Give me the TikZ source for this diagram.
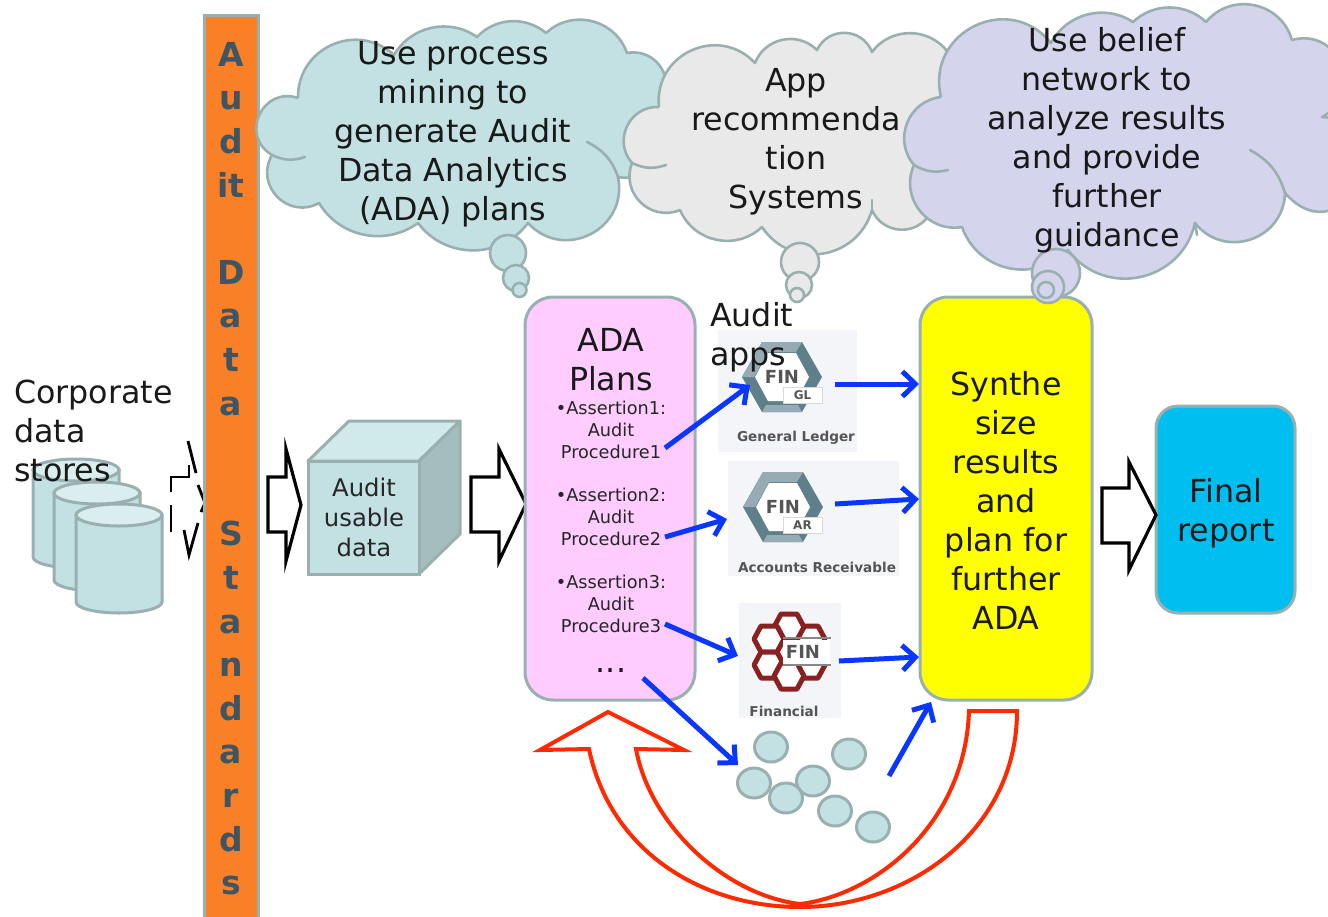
\documentclass[tikz,border=0pt]{standalone}
\usepackage{fontspec}
\setmainfont{DejaVu Sans}
\usetikzlibrary{arrows.meta,calc,shapes.geometric}
\definecolor{edge}{HTML}{9AB0B0}
\definecolor{tealfill}{HTML}{C3E0E3}
\definecolor{tealtop}{HTML}{DAEEF0}
\definecolor{tealtop2}{HTML}{D0E9EA}
\definecolor{tealside}{HTML}{A5BDBD}
\definecolor{greycloud}{HTML}{E9E9E9}
\definecolor{lilac}{HTML}{D4D4EC}
\definecolor{barorange}{HTML}{F98027}
\definecolor{barink}{HTML}{3F5564}
\definecolor{pinkbox}{HTML}{FFCCFF}
\definecolor{yellowbox}{HTML}{FFFF00}
\definecolor{bluebox}{HTML}{00BFF0}
\definecolor{arrowblue}{HTML}{0A37FF}
\definecolor{arrowred}{HTML}{FF2A00}
\definecolor{iconbg}{HTML}{F4F5F8}
\definecolor{hexdark}{HTML}{5F7F8A}
\definecolor{hexlight}{HTML}{96ABB3}
\definecolor{hexred}{HTML}{8B2020}
\definecolor{iconink}{HTML}{555555}
\tikzset{
  x=1pt,y=-1pt,
  b/.code={\pgfmathsetmacro\bendang{2*atan(2*#1)}\pgfmathsetmacro\bendloose{(2/3)*tan(\bendang/2)/sin(\bendang)/0.3915}\tikzset{bend left=\bendang,looseness=\bendloose}},
  cloudline/.style={draw=edge,line width=2.6pt,line join=round},
  crease/.style={draw=edge,line width=2.6pt,line cap=round},
  big/.style={inner sep=0pt,align=center,font=\fontsize{31.7}{39}\selectfont,text=black!90},
  mid/.style={inner sep=0pt,align=center,font=\fontsize{24.3}{30}\selectfont,text=black!85},
  small/.style={inner sep=0pt,align=center,font=\fontsize{17.7}{22}\selectfont,text=black!85},
  applabel/.style={inner sep=0pt,font=\fontsize{13.6}{15}\bfseries\selectfont,text=iconink},
  finlabel/.style={inner sep=0pt,font=\fontsize{18}{20}\bfseries\selectfont,text=iconink},
  tablabel/.style={inner sep=0pt,font=\fontsize{12}{14}\bfseries\selectfont,text=iconink},
  roundbox/.style={draw=edge,line width=3pt,rounded corners=28pt,minimum width=#1},
  iconbox/.style={fill=iconbg,inner sep=0pt},
  blockarrow/.style={draw=black,line width=3.2pt,fill=white,line join=miter},
  feed/.style={draw=arrowblue,line width=5pt,-{Straight Barb[length=13pt,width=25pt,line width=5pt]}},
  fragment/.style={draw=black,line width=2.8pt},
  drum/.style={draw=edge,line width=3pt,fill=tealfill},
  drumtop/.style={draw=edge,line width=3pt,fill=tealtop},
  ball/.style={draw=edge,line width=3pt,fill=tealfill,ellipse,minimum width=33pt,minimum height=30pt,inner sep=0pt},
  hexring/.style={draw=hexred,line width=5pt,fill=white,line join=round},
}
\newcommand{\drumat}[2]{%
  \path[drum] (#1,#2) -- (#1,#2+87) arc[x radius=43,y radius=11,start angle=180,end angle=0] -- (#1+86,#2) -- cycle;
  \path[drumtop] (#1+43,#2) ellipse[x radius=43,y radius=11];
}
\newcommand{\finhex}[2]{%
  \fill[hexdark] (#1-40,#2) -- (#1-20,#2-35) -- (#1+20,#2-35) -- (#1+40,#2) -- (#1+20,#2+35) -- (#1-20,#2+35) -- cycle;
  \fill[hexlight] (#1-40,#2) -- (#1-20,#2-35) -- (#1+20,#2-35) -- (#1+14,#2-25) -- (#1-14,#2-25) -- (#1-28,#2) -- cycle;
  \fill[hexlight] (#1-20,#2+35) -- (#1+20,#2+35) -- (#1+16,#2+28) -- (#1-16,#2+28) -- cycle;
  \fill[white] (#1-27,#2) -- (#1-14,#2-24) -- (#1+14,#2-24) -- (#1+27,#2) -- (#1+14,#2+24) -- (#1-14,#2+24) -- cycle;
}
\newcommand{\redhex}[2]{%
  \path[hexring] (#1-15,#2) -- (#1-8,#2-13) -- (#1+8,#2-13) -- (#1+15,#2) -- (#1+8,#2+13) -- (#1-8,#2+13) -- cycle;
}
\begin{document}
\begin{tikzpicture}
\clip (0,0) rectangle (1328,916);
\fill[white] (0,0) rectangle (1328,916);

% cylinders
\drumat{33}{470}
\drumat{54}{493}
\drumat{76}{515}
\node[big,anchor=north west,align=left] (corp) at (14,380) {Corporate\\data\\stores};

% broken arrow behind the bar
\draw[fragment] (188,441) -- (196,473);
\draw[fragment] (171,492) -- (171,477) -- (189,477) -- (189,465);
\draw[fragment] (171,505) -- (171,532);
\draw[fragment] (198,485) -- (205,503) -- (201,512);
\draw[fragment] (184,530) -- (189,555) -- (198,523);

% standards bar
\node[draw=edge,line width=3pt,fill=barorange,minimum width=54pt,minimum height=920pt,inner sep=0pt,anchor=north] (bar) at (231,14) {};
\node[inner sep=0pt,align=center,anchor=north,text=barink,font=\fontsize{33}{43.6}\bfseries\selectfont] (bartext) at (231,42)
 {A\\u\\d\\it\\\mbox{}\\D\\a\\t\\a\\\mbox{}\\\mbox{}\\S\\t\\a\\n\\d\\a\\r\\d\\s};

% arrows and cube
\path[blockarrow] (268,477) -- (286,477) -- (286,449) -- (301,505) -- (286,561) -- (286,532) -- (268,532) -- cycle;
\path[draw=edge,line width=3pt,fill=tealtop2,line join=round] (308,461) -- (349,421) -- (460,421) -- (419,461) -- cycle;
\path[draw=edge,line width=3pt,fill=tealside,line join=round] (419,461) -- (460,421) -- (460,534) -- (419,574) -- cycle;
\node[draw=edge,line width=3pt,fill=tealfill,minimum width=111pt,minimum height=113pt,inner sep=0pt] (cube) at (363.5,517.5) {};
\node[mid] (cubetext) at (364,517) {Audit\\usable\\data};
\path[blockarrow] (471,477) -- (499,477) -- (499,449) -- (526,504) -- (499,561) -- (499,532) -- (471,532) -- cycle;

% main boxes
\node[roundbox=170pt,minimum height=403pt,fill=pinkbox] (plans) at (610,498.5) {};
\node[roundbox=172pt,minimum height=403pt,fill=yellowbox] (synth) at (1006,498.5) {};
\node[draw=edge,line width=3pt,rounded corners=22pt,minimum width=139pt,minimum height=207pt,fill=bluebox] (final) at (1225.5,509.5) {};
\path[blockarrow] (1102,488) -- (1129,488) -- (1129,462) -- (1156,515) -- (1129,570) -- (1129,543) -- (1102,543) -- cycle;

\node[big] (plantitle) at (611,360) {ADA\\Plans};
\node[small] (as1) at (611,430) {•Assertion1:\\Audit\\Procedure1};
\node[small] (as2) at (611,517) {•Assertion2:\\Audit\\Procedure2};
\node[small] (as3) at (611,604) {•Assertion3:\\Audit\\Procedure3};
\node[big] (dots) at (611,671) {...};
\node[big] (synthtext) at (1006,500) {Synthe\\size\\results\\and\\plan for\\further\\ADA};
\node[big] (finaltext) at (1226,513) {Final\\report};

% app icons
\node[iconbox,minimum width=139pt,minimum height=122pt] (gl) at (787.5,391) {};
\finhex{782}{377}
\node[finlabel] (glfin) at (782,377) {FIN};
\node[fill=white,draw=black!15,minimum width=39pt,minimum height=16pt,inner sep=0pt] (gltab) at (802.5,395) {};
\node[tablabel] (gltabtext) at (802.5,395) {GL};
\node[applabel] (gltext) at (796,438) {General Ledger};

\node[iconbox,minimum width=171pt,minimum height=115pt] (ar) at (813.5,518.5) {};
\finhex{783}{507}
\node[finlabel] (arfin) at (783,507) {FIN};
\node[fill=white,draw=black!15,minimum width=39pt,minimum height=16pt,inner sep=0pt] (artab) at (802.5,525) {};
\node[tablabel] (artabtext) at (802.5,525) {AR};
\node[applabel] (artext) at (817,567) {Accounts Receivable};

\node[iconbox,minimum width=102pt,minimum height=115pt] (fi) at (790,660.5) {};
\redhex{810}{639}
\redhex{810}{665}
\redhex{789}{627}
\redhex{769}{639}
\redhex{769}{665}
\redhex{789}{676}
\fill[white] (783,640) rectangle (830,664);
\draw[iconink!70,line width=1.2pt] (783,638) -- (831,638) (783,665) -- (831,665);
\node[finlabel] (fifin) at (803,652) {FIN};
\node[applabel] (fitext) at (784,711) {Financial};

\node[big,anchor=north west,align=left] (apps) at (710,302) {Audit\\apps};

% small balls
\node[ball] (b1) at (771,747) {};
\node[ball] (b2) at (849,754) {};
\node[ball] (b3) at (754,783) {};
\node[ball] (b4) at (813,781) {};
\node[ball] (b5) at (786,798) {};
\node[ball] (b6) at (835,811) {};
\node[ball] (b7) at (873,827) {};

% blue arrows
\coordinate (p1) at (665,448); \coordinate (t1) at (750,385);
\coordinate (p2) at (665,537); \coordinate (t2) at (727,519);
\coordinate (p3) at (665,624); \coordinate (t3) at (738,656);
\coordinate (p4) at (643,678); \coordinate (t4) at (738,765);
\coordinate (p5) at (889,776); \coordinate (t5) at (931,702);
\coordinate (r1) at (835,384); \coordinate (s1) at (919,384);
\coordinate (r2) at (835,504); \coordinate (s2) at (919,499);
\coordinate (r3) at (839,661); \coordinate (s3) at (919,657);
\draw[feed] (p1) -- (t1);
\draw[feed] (p2) -- (t2);
\draw[feed] (p3) -- (t3);
\draw[feed] (p4) -- (t4);
\draw[feed] (p5) -- (t5);
\draw[feed] (r1) -- (s1);
\draw[feed] (r2) -- (s2);
\draw[feed] (r3) -- (s3);

% red return arrow
\draw[arrowred,line width=4pt,line join=miter]
 (969,711) -- (1017,711)
 .. controls (1017,830) and (910,907) .. (800,907)
 .. controls (700,907) and (610,850) .. (589,749)
 -- (540,750) -- (608,712) -- (684,750) -- (636,749)
 .. controls (650,825) and (725,895) .. (800,904)
 .. controls (875,895) and (965,825) .. (969,711) -- cycle;

% cloud 1
\path[cloudline,fill=tealfill] (298,98) to[b=.33] (394,55) to[b=.22] (477,37) to[b=.2] (546,33) to[b=.27] (627,53)
 to[b=.35] (659,107) to[b=.35] (618,177) to[b=.38] (528,223) to[b=.25] (418,223) to[b=.22] (319,203) to[b=.38] (272,155) to[b=.45] (298,98);
\draw[crease] (587,142) to[bend left=22] (618,177);
\draw[crease] (272,155) to[bend right=22] (305,157);
\path[cloudline,fill=tealfill] (508,253) circle[radius=18];
\path[cloudline,fill=tealfill] (516,278) circle[radius=13];
\path[cloudline,fill=tealfill] (519.5,290) circle[radius=7];
\node[big] (c1text) at (453,134) {Use process\\mining to\\generate Audit\\Data Analytics\\(ADA) plans};

% cloud 2
\path[cloudline,fill=greycloud] (659,107) to[b=.36] (755,63) to[b=.27] (817,50) to[b=.33] (872,52) to[b=.27] (951,57)
 to[b=.35] (1000,130) to[b=.3] (960,200) to[b=.3] (927,218) to[b=.28] (872,210) to[b=.32] (762,227) to[b=.26] (680,210) to[b=.33] (632,163) to[b=.33] (659,107);
\draw[crease] (632,163) to[bend right=22] (666,165);
\draw[crease] (872,210) -- (872,200);
\path[cloudline,fill=greycloud] (800,262) circle[radius=19];
\path[cloudline,fill=greycloud] (799,285) circle[radius=13];
\path[cloudline,fill=greycloud] (797,295) circle[radius=7];
\node[big] (c2text) at (796,142) {App\\recommenda\\tion\\Systems};

% cloud 3
\path[cloudline,fill=lilac] (941,97) to[b=.4] (1051,43) to[b=.22] (1133,22) to[b=.2] (1206,22) to[b=.3] (1292,40) to[b=.45] (1322,117)
 to[b=.75] (1285,193) to[b=.35] (1195,223) to[b=.32] (1068,250) to[b=.28] (962,227) to[b=.3] (914,165) to[b=.3] (941,97);
\draw[crease] (1250,150) to[bend left=22] (1285,193);
\draw[crease] (914,165) to[bend right=22] (948,170);
\draw[crease] (1195,223) -- (1197,235);
\path[cloudline,fill=lilac] (1056,273) circle[radius=24];
\path[cloudline,fill=lilac] (1048,287) circle[radius=16];
\path[cloudline,fill=lilac] (1046,290) circle[radius=8];
\node[big] (c3text) at (1107,140) {Use belief\\network to\\analyze results\\and provide\\further\\guidance};
\end{tikzpicture}
\end{document}
